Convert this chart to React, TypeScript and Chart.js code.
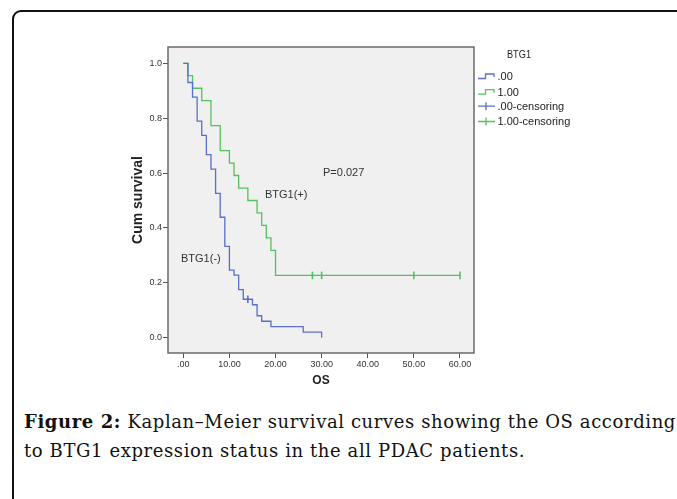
import React, { useEffect, useLayoutEffect, useRef } from "react";
import { Chart, registerables } from "chart.js";

Chart.register(...registerables);

// ---- Data ----
const negTimes = [0, 1, 2, 3, 4, 5, 6, 7, 8, 9, 10, 11, 12, 13, 15, 16, 17, 19, 26, 30];
const negSurvival = [1, 0.93, 0.877, 0.789, 0.737, 0.667, 0.614, 0.526, 0.439, 0.333, 0.246, 0.228, 0.175, 0.14, 0.12, 0.08, 0.06, 0.04, 0.02, 0];
const negCensorTimes = [14];
const negCensorSurvival = [0.14];

const posTimes = [0, 1, 2, 4, 6, 8, 10, 11, 12, 14, 16, 17, 18, 19, 20, 60];
const posSurvival = [1, 0.955, 0.909, 0.864, 0.773, 0.682, 0.636, 0.591, 0.545, 0.5, 0.455, 0.409, 0.364, 0.318, 0.227, 0.227];
const posCensorTimes = [28, 30, 50, 60];
const posCensorSurvival = [0.227, 0.227, 0.227, 0.227];

const xTickValues = [0, 10, 20, 30, 40, 50, 60];
const yTickValues = [0, 0.2, 0.4, 0.6, 0.8, 1.0];

const legendTitle = "BTG1";
const legendLabels = [".00", "1.00", ".00-censoring", "1.00-censoring"];

const xAxisTitle = "OS";
const yAxisTitle = "Cum survival";

const annotationTexts = ["P=0.027", "BTG1(+)", "BTG1(-)"];
const annotationX = [30.3, 17.7, -0.5];
const annotationY = [0.6, 0.519, 0.287];

const captionBold = "Figure 2:";
const captionRest1 = " Kaplan\u2013Meier survival curves showing the OS according";
const captionLine2 = "to BTG1 expression status in the all PDAC patients.";

// ---- Styles ----
const BLUE = "#5b6ec8";
const GREEN = "#52c25e";
const SANS = "'Liberation Sans', Arial, sans-serif";
const SERIF = "'DejaVu Serif', serif";

const CANVAS_LEFT = 110;
const CANVAS_TOP = 30;
const CANVAS_W = 490;
const CANVAS_H = 370;

function toPoints(xs: number[], ys: number[]) {
  return xs.map((x, i) => ({ x, y: ys[i] }));
}

const decorPlugin = {
  id: "decor",
  beforeDraw(chart: any) {
    const { ctx, chartArea: a } = chart;
    ctx.save();
    ctx.fillStyle = "#f0f0f0";
    ctx.fillRect(a.left, a.top, a.right - a.left, a.bottom - a.top);
    ctx.restore();
  },
  beforeDatasetsDraw(chart: any) {
    const { ctx, chartArea: a } = chart;
    ctx.save();
    ctx.strokeStyle = "#6a6a6a";
    ctx.lineWidth = 1.5;
    ctx.strokeRect(a.left, a.top, a.right - a.left, a.bottom - a.top);
    ctx.restore();
  },
  afterDraw(chart: any) {
    const { ctx, chartArea: a, scales } = chart;
    ctx.save();
    // annotations
    ctx.fillStyle = "#333";
    ctx.textBaseline = "middle";
    ctx.textAlign = "left";
    ctx.font = `11px ${SANS}`;
    annotationTexts.forEach((t, i) => {
      ctx.fillText(t, scales.x.getPixelForValue(annotationX[i]), scales.y.getPixelForValue(annotationY[i]));
    });

    // axis titles
    ctx.fillStyle = "#222";
    ctx.font = `bold 12px ${SANS}`;
    ctx.textAlign = "center";
    ctx.fillText(xAxisTitle, (a.left + a.right) / 2, a.bottom + 28);
    ctx.save();
    ctx.translate(a.left - 30, (a.top + a.bottom) / 2);
    ctx.rotate(-Math.PI / 2);
    ctx.font = `bold 14px ${SANS}`;
    ctx.fillText(yAxisTitle, 0, 0);
    ctx.restore();

    // legend
    const lx = a.right + 4; // symbol start
    ctx.save();
    ctx.translate(a.right + 45, 25);
    ctx.scale(0.8, 1);
    ctx.font = `11.5px ${SANS}`;
    ctx.fillStyle = "#222";
    ctx.textAlign = "center";
    ctx.fillText(legendTitle, 0, 0);
    ctx.restore();

    const rowY = [47, 62.7, 76.7, 92];
    const colors = [BLUE, GREEN, BLUE, GREEN];
    ctx.lineWidth = 1.3;
    rowY.forEach((y, i) => {
      ctx.strokeStyle = colors[i];
      ctx.beginPath();
      if (i < 2) {
        ctx.moveTo(lx, y + 1.5);
        ctx.lineTo(lx + 7.5, y + 1.5);
        ctx.lineTo(lx + 7.5, y - 3);
        ctx.lineTo(lx + 16, y - 3);
        ctx.lineTo(lx + 16, y);
      } else {
        ctx.moveTo(lx, y - 0.5);
        ctx.lineTo(lx + 17, y - 0.5);
        ctx.moveTo(lx + 8, y - 4.5);
        ctx.lineTo(lx + 8, y + 3.5);
      }
      ctx.stroke();
      ctx.fillStyle = "#222";
      ctx.textAlign = "left";
      ctx.font = `11px ${SANS}`;
      ctx.fillText(legendLabels[i], lx + 19.5, y);
    });
    ctx.restore();
  },
};

function KMChart() {
  const ref = useRef<HTMLCanvasElement>(null);
  useEffect(() => {
    if (!ref.current) return;
    const tickFont = { family: SANS, size: 9 };
    const chart = new Chart(ref.current, {
      type: "line",
      data: {
        datasets: [
          {
            label: legendLabels[0],
            data: toPoints(negTimes, negSurvival),
            stepped: "before",
            borderColor: BLUE,
            borderWidth: 1.3,
            pointRadius: 0,
            fill: false,
          },
          {
            label: legendLabels[1],
            data: toPoints(posTimes, posSurvival),
            stepped: "before",
            borderColor: GREEN,
            borderWidth: 1.3,
            pointRadius: 0,
            fill: false,
          },
          {
            label: legendLabels[2],
            data: toPoints(negCensorTimes, negCensorSurvival),
            showLine: false,
            pointStyle: "line",
            rotation: 90,
            pointRadius: 3.8,
            borderColor: BLUE,
            backgroundColor: BLUE,
            pointBorderWidth: 1.6,
          },
          {
            label: legendLabels[3],
            data: toPoints(posCensorTimes, posCensorSurvival),
            showLine: false,
            pointStyle: "line",
            rotation: 90,
            pointRadius: 3.8,
            borderColor: GREEN,
            backgroundColor: GREEN,
            pointBorderWidth: 1.6,
          },
        ],
      } as any,
      options: {
        animation: false,
        responsive: false,
        devicePixelRatio: 1,
        events: [],
        layout: { padding: { left: 0, top: 17, right: 126, bottom: 0 } },
        plugins: { legend: { display: false }, tooltip: { enabled: false }, title: { display: false } },
        scales: {
          x: {
            type: "linear",
            min: -3.32,
            max: 63.04,
            afterBuildTicks: (s: any) => {
              s.ticks = xTickValues.map((v) => ({ value: v }));
            },
            afterFit: (s: any) => {
              s.height = 47;
            },
            grid: { drawOnChartArea: false, drawTicks: true, tickLength: 5, color: "#555", lineWidth: 1 },
            border: { display: false },
            ticks: {
              autoSkip: false,
              maxRotation: 0,
              padding: 1,
              color: "#333",
              font: tickFont,
              callback: (v: any) => (v === 0 ? ".00" : Number(v).toFixed(2)),
            },
          },
          y: {
            type: "linear",
            min: -0.0558,
            max: 1.0594,
            afterBuildTicks: (s: any) => {
              s.ticks = yTickValues.map((v) => ({ value: v }));
            },
            afterFit: (s: any) => {
              s.width = 58;
            },
            grid: { drawOnChartArea: false, drawTicks: true, tickLength: 5, color: "#555", lineWidth: 1 },
            border: { display: false },
            ticks: {
              autoSkip: false,
              padding: 1,
              color: "#333",
              font: tickFont,
              callback: (v: any) => Number(v).toFixed(1),
            },
          },
        },
      } as any,
      plugins: [decorPlugin],
    });
    return () => chart.destroy();
  }, []);
  return (
    <canvas
      ref={ref}
      width={CANVAS_W}
      height={CANVAS_H}
      style={{ position: "absolute", left: CANVAS_LEFT, top: CANVAS_TOP, width: CANVAS_W, height: CANVAS_H }}
    />
  );
}

function Caption() {
  const l1 = useRef<HTMLSpanElement>(null);
  const l2 = useRef<HTMLSpanElement>(null);
  useLayoutEffect(() => {
    const fit = () => {
      const a = l1.current;
      const b = l2.current;
      if (!a || !b) return;
      a.style.letterSpacing = "0px";
      b.style.letterSpacing = "0px";
      const w = a.getBoundingClientRect().width;
      const n = (captionBold + captionRest1).length;
      const sp = (652 - w) / n;
      a.style.letterSpacing = sp + "px";
      b.style.letterSpacing = sp + "px";
    };
    fit();
    (document as any).fonts?.ready?.then(fit);
  }, []);
  const common: React.CSSProperties = {
    position: "absolute",
    left: 24,
    whiteSpace: "nowrap",
    fontFamily: SERIF,
    fontSize: 18,
    lineHeight: "18px",
    color: "#111",
  };
  return (
    <>
      <div style={{ ...common, top: 412.5 }}>
        <span ref={l1}>
          <b>{captionBold}</b>
          {captionRest1}
        </span>
      </div>
      <div style={{ ...common, top: 441.5 }}>
        <span ref={l2}>{captionLine2}</span>
      </div>
    </>
  );
}

export default function App() {
  return (
    <div
      style={{
        position: "absolute",
        left: 0,
        top: 0,
        width: 677,
        height: 499,
        overflow: "hidden",
        background: "#fff",
      }}
    >
      <div
        style={{
          position: "absolute",
          left: 12,
          top: 10,
          width: 720,
          height: 540,
          border: "2px solid #111",
          borderRadius: 9,
          boxSizing: "border-box",
        }}
      />
      <KMChart />
      <Caption />
    </div>
  );
}
